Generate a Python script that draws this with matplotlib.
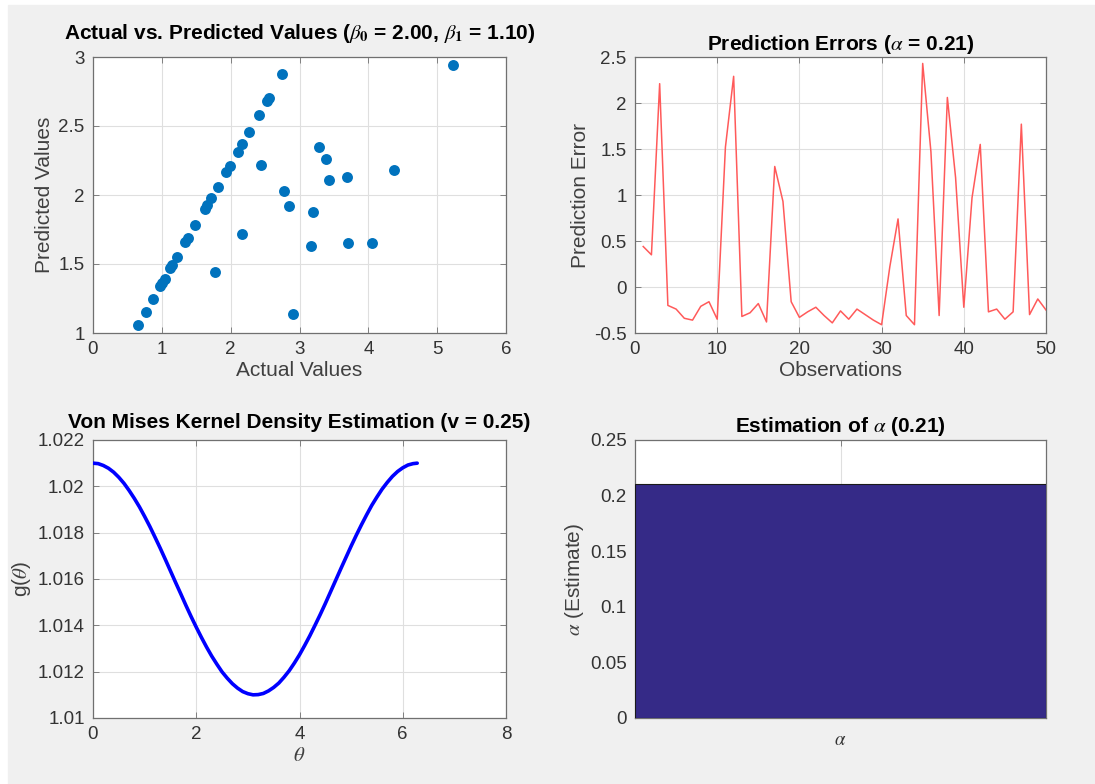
import matplotlib
matplotlib.use('Agg')
import matplotlib.pyplot as plt
from matplotlib.patches import Rectangle

# scatter: actual vs predicted
actual = [0.65, 0.77, 0.87, 0.97, 1.00, 1.04, 1.12, 1.15, 1.22, 1.34, 1.38,
          1.48, 1.62, 1.66, 1.71, 1.81, 1.93, 1.99, 2.10, 2.16, 2.27, 2.41,
          2.53, 2.55, 2.75, 1.77, 2.16, 2.44, 2.78, 2.85, 2.90, 3.17, 3.20,
          3.28, 3.38, 3.43, 3.69, 3.70, 4.06, 4.37, 5.23]
predicted = [1.06, 1.15, 1.25, 1.34, 1.36, 1.39, 1.47, 1.49, 1.55, 1.66, 1.69,
             1.78, 1.90, 1.93, 1.98, 2.06, 2.17, 2.21, 2.31, 2.37, 2.46, 2.58,
             2.68, 2.70, 2.88, 1.44, 1.72, 2.22, 2.03, 1.92, 1.14, 1.63, 1.88,
             2.35, 2.26, 2.11, 2.13, 1.65, 1.65, 2.18, 2.94]

# prediction errors per observation
observations = list(range(1, 51))
errors = [0.44, 0.35, 2.21, -0.20, -0.24, -0.34, -0.36, -0.21, -0.16, -0.35,
          1.52, 2.29, -0.32, -0.28, -0.18, -0.38, 1.31, 0.93, -0.16, -0.33,
          -0.27, -0.22, -0.31, -0.39, -0.26, -0.35, -0.24, -0.30, -0.36, -0.41,
          0.22, 0.74, -0.31, -0.41, 2.43, 1.47, -0.31, 2.06, 1.19, -0.22,
          0.97, 1.55, -0.27, -0.24, -0.35, -0.27, 1.77, -0.30, -0.13, -0.25]

# von Mises kernel density, read every 0.1 rad
theta = [0.0, 0.1, 0.2, 0.3, 0.4, 0.5, 0.6, 0.7, 0.8, 0.9, 1.0, 1.1, 1.2,
         1.3, 1.4, 1.5, 1.6, 1.7, 1.8, 1.9, 2.0, 2.1, 2.2, 2.3, 2.4, 2.5,
         2.6, 2.7, 2.8, 2.9, 3.0, 3.1, 3.2, 3.3, 3.4, 3.5, 3.6, 3.7, 3.8,
         3.9, 4.0, 4.1, 4.2, 4.3, 4.4, 4.5, 4.6, 4.7, 4.8, 4.9, 5.0, 5.1,
         5.2, 5.3, 5.4, 5.5, 5.6, 5.7, 5.8, 5.9, 6.0, 6.1, 6.2, 6.28]
density = [1.02100, 1.02098, 1.02090, 1.02078, 1.02061, 1.02039, 1.02013,
           1.01982, 1.01948, 1.01911, 1.01870, 1.01827, 1.01781, 1.01734,
           1.01685, 1.01635, 1.01585, 1.01536, 1.01486, 1.01438, 1.01392,
           1.01348, 1.01306, 1.01267, 1.01232, 1.01199, 1.01172, 1.01148,
           1.01129, 1.01114, 1.01105, 1.01100, 1.01101, 1.01106, 1.01117,
           1.01132, 1.01151, 1.01176, 1.01204, 1.01237, 1.01273, 1.01313,
           1.01355, 1.01400, 1.01446, 1.01494, 1.01544, 1.01594, 1.01644,
           1.01693, 1.01742, 1.01789, 1.01834, 1.01877, 1.01918, 1.01954,
           1.01988, 1.02017, 1.02043, 1.02064, 1.02080, 1.02092, 1.02098,
           1.02100]

# alpha estimate
alpha_label = [r'$\alpha$']
alpha_value = [0.21]

plt.rcParams['font.family'] = ['Liberation Sans', 'DejaVu Sans']
plt.rcParams['mathtext.fontset'] = 'stix'

TICK_COLOR = '#333333'
SPINE_COLOR = '#707070'
GRID_COLOR = '#dfdfdf'

fig = plt.figure(figsize=(10.95, 7.84), dpi=100, facecolor='white')
# grey canvas with a thin white strip on top and left
fig.patches.append(Rectangle((8 / 1095, 0), 1, 1 - 5 / 784,
                             transform=fig.transFigure, color='#f0f0f0',
                             zorder=-10))


def style(ax):
    ax.set_facecolor('white')
    ax.grid(True, color=GRID_COLOR, linewidth=0.8)
    ax.set_axisbelow(True)
    ax.tick_params(direction='in', top=True, right=True, length=4,
                   width=0.6, color=SPINE_COLOR, labelsize=13.5,
                   labelcolor=TICK_COLOR, pad=6)
    for spine in ax.spines.values():
        spine.set_color(SPINE_COLOR)
        spine.set_linewidth(0.9)


title_kw = dict(fontsize=15, fontweight='bold', color='black')
label_kw = dict(fontsize=15, color='#404040')

# top left
ax1 = fig.add_axes([93 / 1095, 1 - 333 / 784, 413 / 1095, 276 / 784])
style(ax1)
ax1.scatter(actual, predicted, s=62, color='#0072BD', linewidths=0, zorder=3)
ax1.set_xlim(0, 6)
ax1.set_ylim(1, 3)
ax1.set_yticks([1, 1.5, 2, 2.5, 3])
ax1.set_yticklabels(['1', '1.5', '2', '2.5', '3'])
ax1.set_title(r'Actual vs. Predicted Values ($\beta_\mathbf{0}$ = 2.00, '
              r'$\beta_\mathbf{1}$ = 1.10)', pad=13, **title_kw)
ax1.set_xlabel('Actual Values', labelpad=2, **label_kw)
ax1.set_ylabel('Predicted Values', labelpad=3, **label_kw)

# top right
ax2 = fig.add_axes([635 / 1095, 1 - 333 / 784, 411 / 1095, 276 / 784])
style(ax2)
ax2.plot(observations, errors, color='#ff5a5a', linewidth=1.1, zorder=3)
ax2.set_xlim(0, 50)
ax2.set_ylim(-0.5, 2.5)
ax2.set_yticks([-0.5, 0, 0.5, 1, 1.5, 2, 2.5])
ax2.set_yticklabels(['-0.5', '0', '0.5', '1', '1.5', '2', '2.5'])
ax2.set_title(r'Prediction Errors ($\alpha$ = 0.21)', pad=5, **title_kw)
ax2.set_xlabel('Observations', labelpad=2, **label_kw)
ax2.set_ylabel('Prediction Error', labelpad=3, **label_kw)

# bottom left
ax3 = fig.add_axes([93 / 1095, 1 - 718 / 784, 413 / 1095, 278 / 784])
style(ax3)
ax3.plot(theta, density, color='#0000ff', linewidth=2.6, zorder=3,
         solid_capstyle='round')
ax3.set_xlim(0, 8)
ax3.set_ylim(1.010, 1.022)
ax3.set_xticks([0, 2, 4, 6, 8])
ax3.set_yticks([1.010, 1.012, 1.014, 1.016, 1.018, 1.020, 1.022])
ax3.set_yticklabels(['1.01', '1.012', '1.014', '1.016', '1.018', '1.02',
                     '1.022'])
ax3.set_title('Von Mises Kernel Density Estimation (v = 0.25)', pad=9,
              **title_kw)
ax3.set_xlabel(r'$\theta$', labelpad=2, **label_kw)
ax3.set_ylabel(r'g($\theta$)', labelpad=3, **label_kw)

# bottom right
ax4 = fig.add_axes([635 / 1095, 1 - 718 / 784, 411 / 1095, 278 / 784])
style(ax4)
ax4.bar([1], alpha_value, width=0.8, color='#352A87', edgecolor='#1a1a1a',
        linewidth=0.8, zorder=3)
ax4.set_xlim(0.6, 1.4)
ax4.set_ylim(0, 0.25)
ax4.set_xticks([1])
ax4.set_xticklabels(alpha_label)
ax4.set_yticks([0, 0.05, 0.1, 0.15, 0.2, 0.25])
ax4.set_yticklabels(['0', '0.05', '0.1', '0.15', '0.2', '0.25'])
ax4.tick_params(axis='x', pad=10)
ax4.set_title(r'Estimation of $\alpha$ (0.21)', pad=6, **title_kw)
ax4.set_ylabel(r'$\alpha$ (Estimate)', labelpad=3, **label_kw)

fig.savefig('out.png', dpi=100, facecolor=fig.get_facecolor())
